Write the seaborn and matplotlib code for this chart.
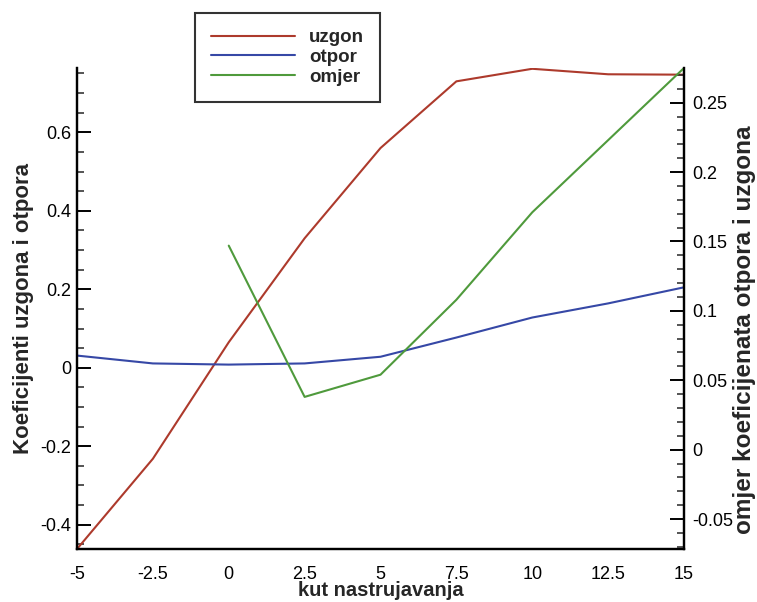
import numpy as np
import pandas as pd
import matplotlib
matplotlib.use("Agg")
import matplotlib.pyplot as plt
import seaborn as sns
from matplotlib.ticker import MultipleLocator

# napadni kut (deg)
kut = [-5, -2.5, 0, 2.5, 5, 7.5, 10, 12.5, 15]
uzgon = [-0.462, -0.232, 0.065, 0.33, 0.56, 0.73, 0.762, 0.748, 0.747]
otpor = [0.031, 0.011, 0.008, 0.011, 0.028, 0.077, 0.128, 0.164, 0.205]
kut_omjer = [0, 2.5, 5, 7.5, 10, 12.5, 15]
omjer = [0.147, 0.038, 0.054, 0.108, 0.171, 0.223, 0.275]

sns.set_style("white")
plt.rcParams['font.family'] = ['Liberation Sans', 'DejaVu Sans']

fig = plt.figure(figsize=(7.57, 6.02), dpi=100)
ax = fig.add_axes([77 / 757, 53 / 602, 607 / 757, 481 / 602])
ax2 = ax.twinx()

sns.lineplot(x=kut, y=uzgon, ax=ax, color='#ad3a2c', lw=1.5, label='uzgon', legend=False)
sns.lineplot(x=kut, y=otpor, ax=ax, color='#3648a6', lw=1.5, label='otpor', legend=False)
sns.lineplot(x=kut_omjer, y=omjer, ax=ax2, color='#4f9a3c', lw=1.5, label='omjer', legend=False)

ax.set_xlim(-5, 15)
ax.set_ylim(-0.462, 0.764)
ax2.set_ylim(-0.0716, 0.275)

ax.xaxis.set_minor_locator(MultipleLocator(0.5))
ax.yaxis.set_minor_locator(MultipleLocator(0.05))
ax2.yaxis.set_minor_locator(MultipleLocator(0.01))

ax.set_xticks([-5, -2.5, 0, 2.5, 5, 7.5, 10, 12.5, 15])
ax.set_xticklabels(['-5', '-2.5', '0', '2.5', '5', '7.5', '10', '12.5', '15'])
ax.set_yticks([-0.4, -0.2, 0, 0.2, 0.4, 0.6])
ax.set_yticklabels(['-0.4', '-0.2', '0', '0.2', '0.4', '0.6'])
ax2.set_yticks([-0.05, 0, 0.05, 0.1, 0.15, 0.2, 0.25])
ax2.set_yticklabels(['-0.05', '0', '0.05', '0.1', '0.15', '0.2', '0.25'])

for a in (ax, ax2):
    a.tick_params(which='major', direction='in', length=10, width=1.4, labelsize=13, colors='black')
    a.tick_params(which='minor', direction='in', length=5, width=1.1)
    for s in a.spines.values():
        s.set_linewidth(1.6)
        s.set_color('black')
    a.spines['top'].set_visible(False)
ax.tick_params(axis='x', pad=12)
ax.tick_params(axis='y', pad=4)
ax2.tick_params(axis='y', pad=6)

ax.set_xlabel('kut nastrujavanja', fontsize=14.5, fontweight='bold', labelpad=-1)
ax.set_ylabel('Koeficijenti uzgona i otpora', fontsize=16, fontweight='bold', labelpad=5)
ax2.set_ylabel('omjer koeficijenata otpora i uzgona', fontsize=17.5, fontweight='bold')
ax2.yaxis.set_label_coords(1.08, 0.455)

handles = ax.get_lines()[:2] + ax2.get_lines()[:1]
leg = fig.legend(handles, ['uzgon', 'otpor', 'omjer'], loc='upper left',
                 bbox_to_anchor=(195 / 757, 1 - 13 / 602), frameon=True, fancybox=False,
                 prop={'weight': 'bold', 'size': 13.5}, handlelength=4.5, handletextpad=0.75,
                 borderpad=0.85, labelspacing=0.15, borderaxespad=0)
leg.get_frame().set_edgecolor('black')
leg.get_frame().set_linewidth(1.5)

fig.savefig('out.png', dpi=100)
